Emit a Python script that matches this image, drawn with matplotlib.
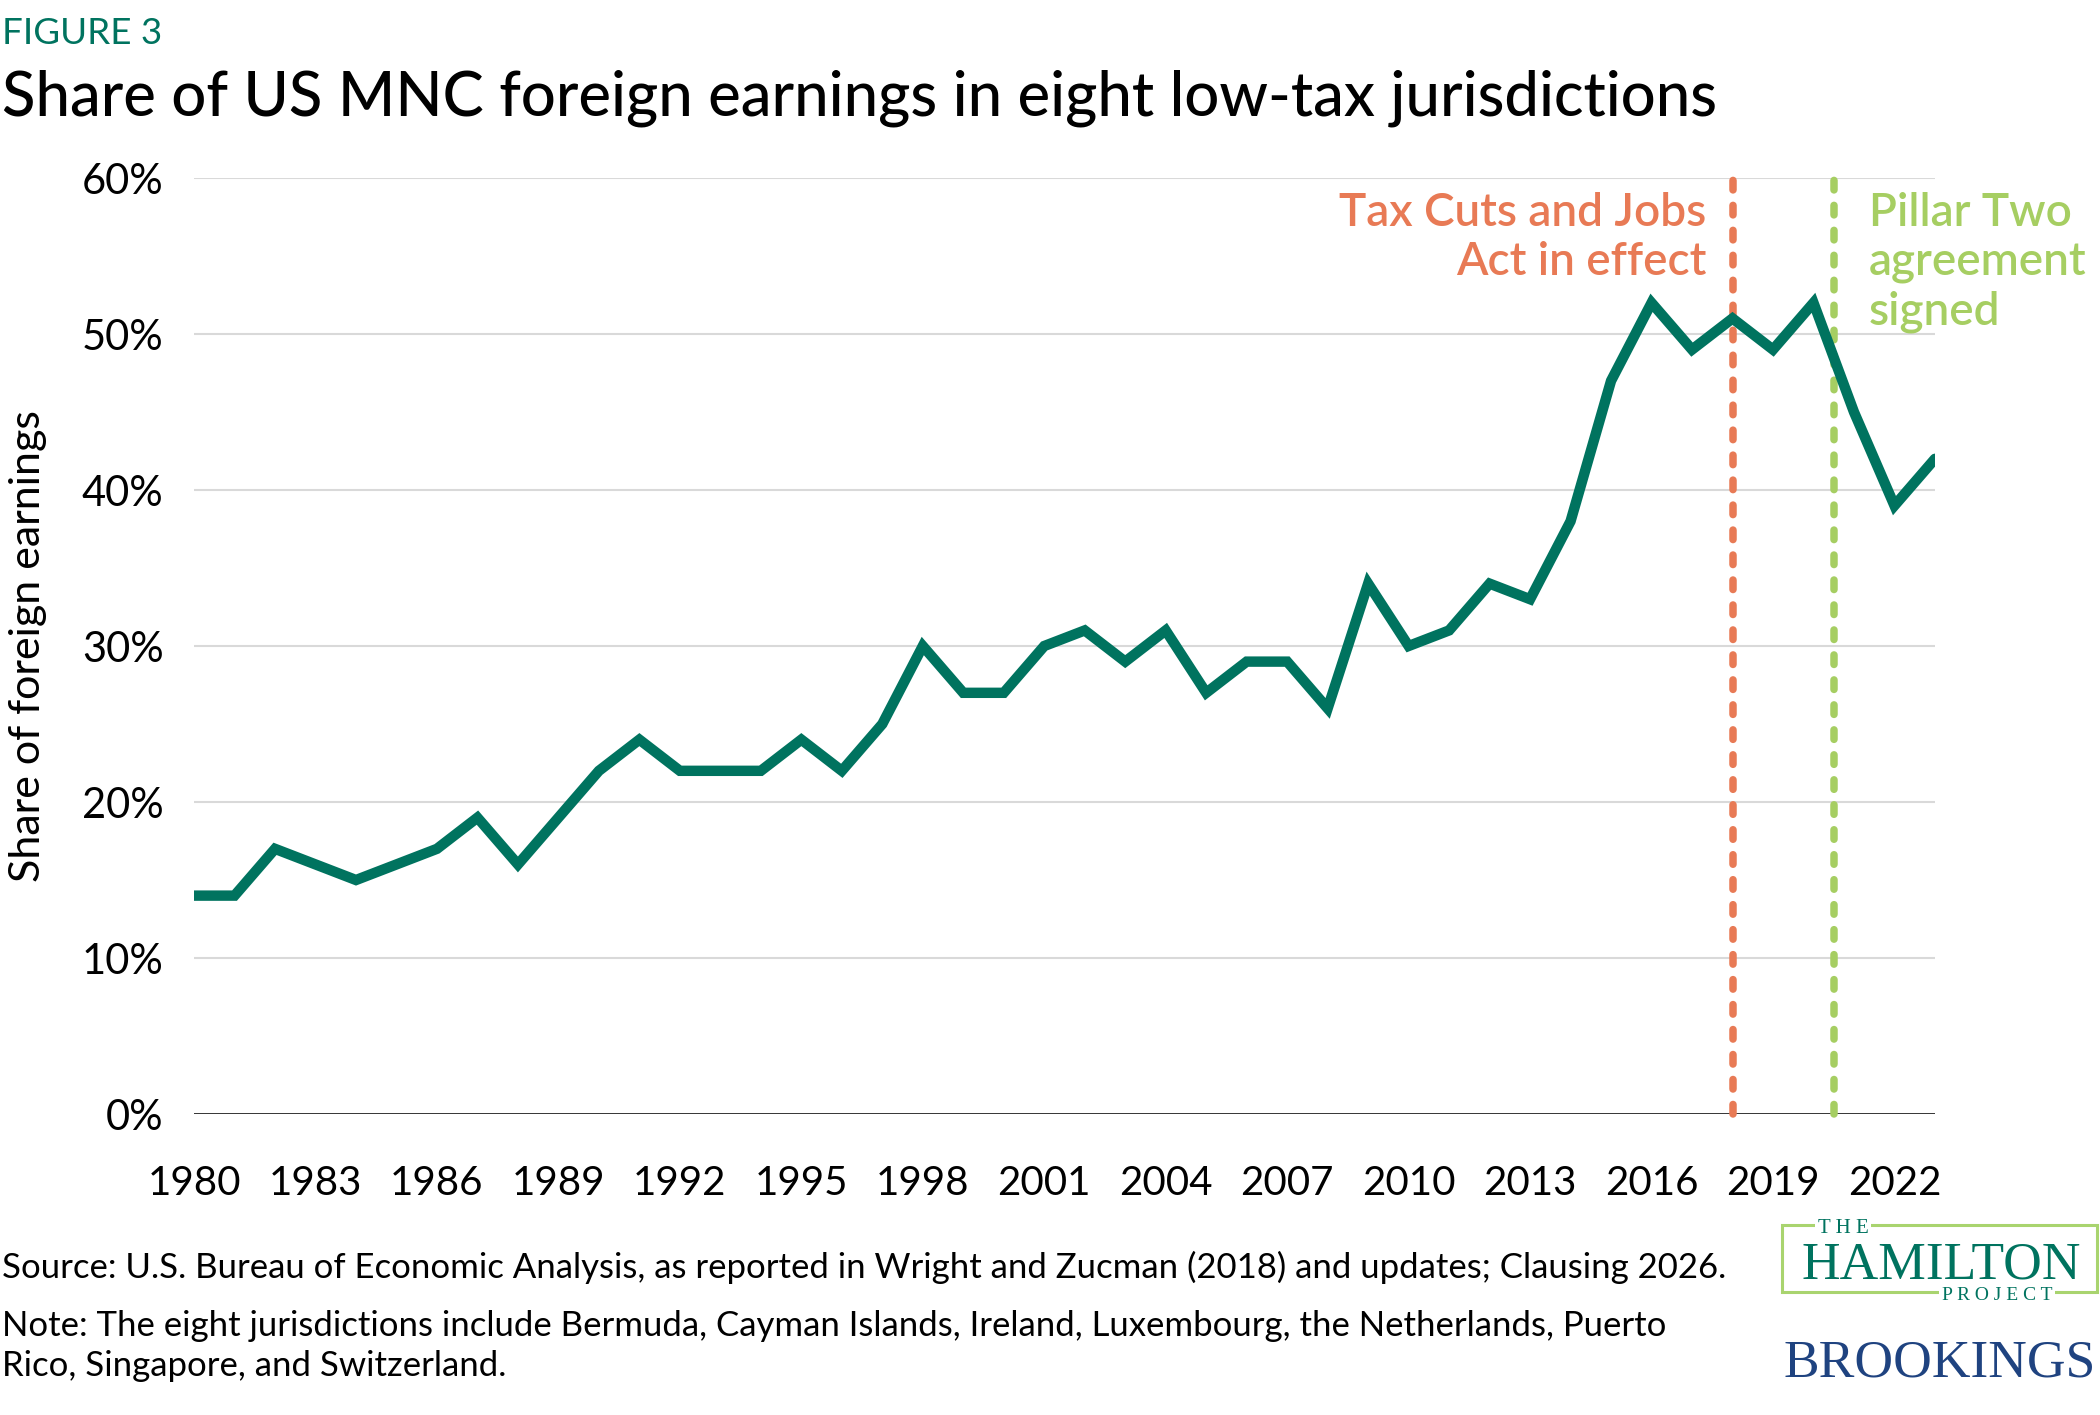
import matplotlib.pyplot as plt
from matplotlib.patches import Rectangle

plt.rcParams["font.family"] = ["Lato", "DejaVu Sans"]

### data
years = list(range(1980, 2024))
share = [14, 14, 17, 16, 15, 16, 17, 19, 16, 19,
         22, 24, 22, 22, 22, 24, 22, 25, 30, 27,
         27, 30, 31, 29, 31, 27, 29, 29, 26, 34,
         30, 31, 34, 33, 38, 47, 52, 49, 51, 49,
         52, 45, 39, 42]
xticks = list(range(1980, 2023, 3))
yticks = [0, 10, 20, 30, 40, 50, 60]
tcja_year = 2018
pillar_two_year = 2020.5

### colours
green = "#00735F"
orange = "#E87A55"
lime = "#A6CE62"
navy = "#1F4380"

fig = plt.figure(figsize=(21, 14.15), dpi=100)
ax = fig.add_axes([0.0924, 0.2127, 0.8290, 0.6615])

ax.set_xlim(1980, 2023)
ax.set_ylim(0, 60)
for y in yticks[1:]:
    ax.axhline(y, color="#D9D9D9", linewidth=1.5, zorder=1)
ax.axhline(0, color="#222222", linewidth=2, zorder=2)

ax.plot(years, share, color=green, linewidth=7.5, solid_capstyle="round",
        solid_joinstyle="miter", zorder=4)

dash = (0, (1.27, 2.06))
ax.axvline(tcja_year, ymin=0, ymax=1.005, color=orange, linewidth=5.4,
           linestyle=dash, dash_capstyle="round", clip_on=False, zorder=3)
ax.axvline(pillar_two_year, ymin=0, ymax=1.005, color=lime, linewidth=5.4,
           linestyle=dash, dash_capstyle="round", clip_on=False, zorder=3)

ax.text(tcja_year - 0.64, 59.1, "Tax Cuts and Jobs\nAct in effect", color=orange,
        fontsize=33, fontweight="semibold", ha="right", va="top", linespacing=1.21)
ax.text(pillar_two_year + 0.87, 59.1, "Pillar Two\nagreement\nsigned", color=lime,
        fontsize=33, fontweight="semibold", ha="left", va="top", linespacing=1.21)

ax.set_xticks(xticks)
ax.set_xticklabels([str(x) for x in xticks])
ax.set_yticks(yticks)
ax.set_yticklabels([f"{y}%" for y in yticks])
ax.tick_params(axis="both", length=0, colors="black")
ax.tick_params(axis="x", pad=37, labelsize=29)
ax.tick_params(axis="y", pad=22, labelsize=30)
for s in ax.spines.values():
    s.set_visible(False)
ax.set_ylabel("Share of foreign earnings", fontsize=31)
ax.yaxis.set_label_coords(-0.0845, 0.5)

fig.text(0.001, 0.988, "FIGURE 3", color=green, fontsize=26.5, ha="left", va="top")
fig.text(0.001, 0.951, "Share of US MNC foreign earnings in eight low-tax jurisdictions",
         fontsize=44.4, fontweight="medium", ha="left", va="top")

fig.text(0.001, 0.1046, "Source: U.S. Bureau of Economic Analysis, as reported in Wright and Zucman (2018) and updates; Clausing 2026.",
         fontsize=25, ha="left", va="center")
fig.text(0.001, 0.0488, "Note: The eight jurisdictions include Bermuda, Cayman Islands, Ireland, Luxembourg, the Netherlands, Puerto\nRico, Singapore, and Switzerland.",
         fontsize=25, ha="left", va="center", linespacing=1.31)

# logos
fig.patches.append(Rectangle((0.8486, 0.0869), 0.1500, 0.0474, transform=fig.transFigure,
                             fill=False, edgecolor="#A9D46F", linewidth=2.2))
fig.text(0.8776, 0.1286, "T H E", color=green, fontsize=15, family="Liberation Serif",
         ha="center", va="baseline", bbox=dict(facecolor="white", edgecolor="none", pad=2))
fig.text(0.9243, 0.0968, "HAMILTON", color=green, fontsize=38.5, family="Liberation Serif",
         ha="center", va="baseline")
fig.text(0.951, 0.0813, "P R O J E C T", color=green, fontsize=14, family="Liberation Serif",
         ha="center", va="baseline", bbox=dict(facecolor="white", edgecolor="none", pad=2))
fig.text(0.9238, 0.0269, "BROOKINGS", color=navy, fontsize=38.5, family="Liberation Serif",
         ha="center", va="baseline")

fig.savefig("out.png", dpi=100, facecolor="white")
